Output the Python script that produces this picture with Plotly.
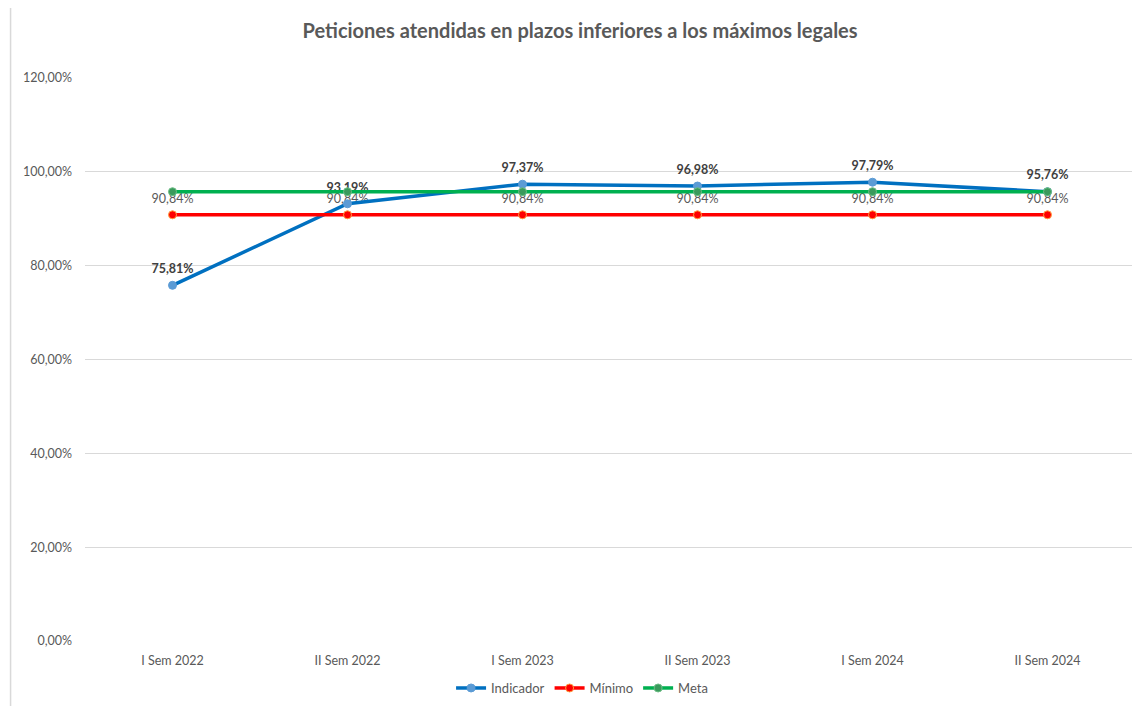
import plotly.graph_objects as go

categories = ["I Sem 2022", "II Sem 2022", "I Sem 2023", "II Sem 2023", "I Sem 2024", "II Sem 2024"]
indicador = [75.81, 93.19, 97.37, 96.98, 97.79, 95.76]
minimo = [90.84, 90.84, 90.84, 90.84, 90.84, 90.84]
meta = [95.76, 95.76, 95.76, 95.76, 95.76, 95.76]
y_ticks = [0, 20, 40, 60, 80, 100, 120]
y_tick_labels = ["0,00%", "20,00%", "40,00%", "60,00%", "80,00%", "100,00%", "120,00%"]

def fmt(v):
    return f"{v:.2f}".replace(".", ",") + "%"

FONT = "Lato, 'Open Sans', sans-serif"

fig = go.Figure()
# data-label traces (drawn first so the lines sit above them)
fig.add_trace(go.Scatter(
    x=categories, y=indicador, mode="markers+text", showlegend=False, hoverinfo="skip",
    marker=dict(size=13, opacity=0),
    text=[f"<b>{fmt(v)}</b>" for v in indicador], textposition="top center",
    textfont=dict(color="#404040", size=12.5, family=FONT),
))
fig.add_trace(go.Scatter(
    x=categories, y=minimo, mode="markers+text", showlegend=False, hoverinfo="skip",
    marker=dict(size=12, opacity=0),
    text=[fmt(v) for v in minimo], textposition="top center",
    textfont=dict(color="#595959", size=12.5, family=FONT),
))
fig.add_trace(go.Scatter(
    x=categories, y=indicador, name="Indicador", mode="lines+markers",
    line=dict(color="#0070C0", width=3.5),
    marker=dict(color="#5B9BD5", size=8, line=dict(color="#5B9BD5", width=1)),
))
fig.add_trace(go.Scatter(
    x=categories, y=minimo, name="Mínimo", mode="lines+markers",
    line=dict(color="#FF0000", width=3.5),
    marker=dict(color="#FF0000", size=8, line=dict(color="#FFA040", width=1)),
))
fig.add_trace(go.Scatter(
    x=categories, y=meta, name="Meta", mode="lines+markers",
    line=dict(color="#00B050", width=3.5),
    marker=dict(color="#3A9A5C", size=8, line=dict(color="#6DBE85", width=1)),
))

fig.update_layout(
    width=1140, height=706,
    margin=dict(l=76.5, r=12.5, t=70, b=72),
    paper_bgcolor="white", plot_bgcolor="white",
    font=dict(family=FONT, color="#595959", size=12),
    title=dict(text="<b>Peticiones atendidas en plazos inferiores a los máximos legales</b>",
               x=0.5018, xanchor="center", y=0.9674, yanchor="middle",
               font=dict(size=20, color="#595959", family=FONT)),
    showlegend=True,
    legend=dict(orientation="h", x=0.4734, xanchor="center", y=-0.0816, yanchor="middle",
                font=dict(size=13, color="#595959"), itemwidth=30),
    xaxis=dict(showgrid=False, showline=False, ticks="", tickfont=dict(size=12.5, color="#595959"),
               range=[-0.5, 5.5], ticklabelstandoff=10),
    yaxis=dict(range=[0, 120], tickvals=y_ticks, ticktext=y_tick_labels,
               showgrid=True, gridcolor="#D9D9D9", gridwidth=1, zeroline=False,
               showline=False, ticks="", ticklabelstandoff=12,
               tickfont=dict(size=12.5, color="#595959")),
)

# chart border (left and top edges visible)
x_left = (10 - 84.5) / 1051
y_top = (642 - 4) / 564
y_bot = (642 - 720) / 564
fig.add_shape(type="line", xref="paper", yref="paper", x0=x_left, x1=x_left, y0=y_bot, y1=y_top,
              line=dict(color="#D9D9D9", width=1.5))
fig.add_shape(type="line", xref="paper", yref="paper", x0=x_left, x1=1.02, y0=y_top, y1=y_top,
              line=dict(color="#D9D9D9", width=1.5))

fig.write_html("out.html")
